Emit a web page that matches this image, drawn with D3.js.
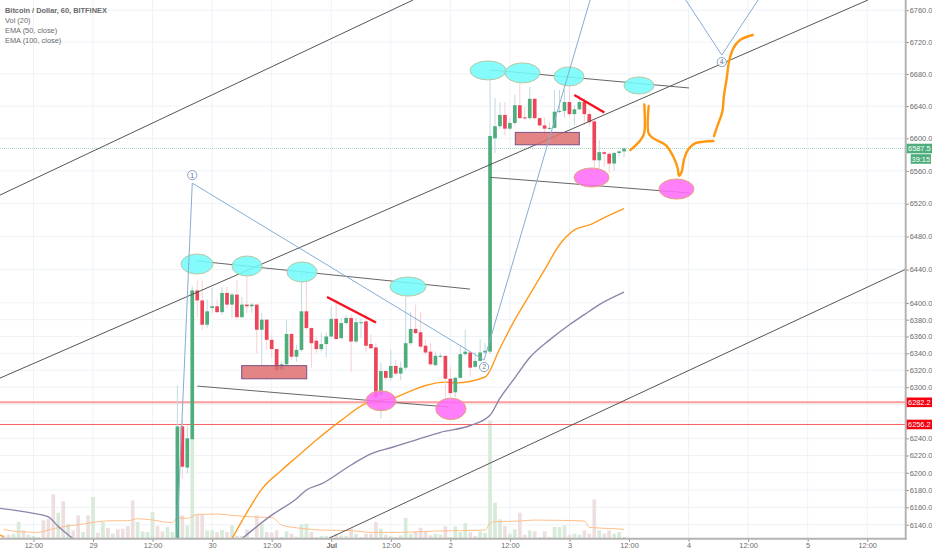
<!DOCTYPE html>
<html>
<head>
<meta charset="utf-8">
<script src="https://cdn.jsdelivr.net/npm/d3@7"></script>
<style>
  html, body { margin: 0; background: #fff; }
  text { font-family: "Liberation Sans", Arial, sans-serif; }
</style>
</head>
<body>
<div id="chart"></div>
<script>
// hours are counted from 29 Jun 00:00
const legendLines = ['Bitcoin / Dollar, 60, BITFINEX', 'Vol (20)', 'EMA (50, close)', 'EMA (100, close)'];

const priceTicks = [6760, 6720, 6680, 6640, 6600, 6560, 6520, 6480, 6440, 6400, 6380, 6360, 6340, 6320, 6300, 6280, 6260, 6240, 6220, 6200, 6180, 6160, 6140];
// these two labels sit behind the alert tags in the chart
const hiddenPriceLabels = [6280, 6260];
const timeTicks = [-12, 0, 12, 24, 36, 48, 60, 72, 84, 96, 108, 120, 132, 144, 156];
const timeLabels = ['12:00', '29', '12:00', '30', '12:00', 'Jul', '12:00', '2', '12:00', '3', '12:00', '4', '12:00', '5', '12:00'];

const firstCandleHour = 17;
const candleOpen = [6090, 6254, 6206, 6239, 6415, 6403, 6374, 6394, 6396, 6389, 6412, 6398, 6410, 6383, 6398, 6396, 6398, 6368, 6380, 6356, 6345, 6321, 6327, 6363, 6336, 6344, 6390, 6370, 6355, 6345, 6351, 6360, 6381, 6358, 6376, 6382, 6354, 6376, 6378, 6351, 6347, 6291, 6319, 6311, 6325, 6316, 6323, 6352, 6369, 6365, 6349, 6342, 6326, 6336, 6337, 6310, 6294, 6311, 6339, 6341, 6324, 6331, 6341, 6342, 6600, 6615, 6629, 6612, 6619, 6641, 6626, 6625, 6649, 6625, 6616, 6612, 6613, 6633, 6634, 6645, 6630, 6636, 6645, 6630, 6621, 6573, 6583, 6581, 6569, 6582, 6584];
const candleHigh = [6302, 6261, 6255, 6420, 6427, 6427, 6404, 6418, 6404, 6419, 6419, 6412, 6427, 6407, 6433, 6400, 6399, 6388, 6380, 6362, 6346, 6330, 6380, 6364, 6350, 6439, 6436, 6371, 6360, 6365, 6365, 6395, 6404, 6382, 6386, 6386, 6382, 6382, 6388, 6362, 6352, 6329, 6320, 6344, 6332, 6330, 6407, 6389, 6398, 6389, 6356, 6352, 6342, 6340, 6338, 6324, 6312, 6350, 6368, 6342, 6342, 6357, 6352, 6685, 6650, 6645, 6645, 6625, 6654, 6669, 6639, 6664, 6650, 6626, 6626, 6620, 6660, 6660, 6660, 6669, 6641, 6654, 6650, 6635, 6623, 6598, 6585, 6583, 6583, 6585, 6589];
const candleLow = [6090, 6192, 6199, 6238, 6383, 6367, 6370, 6388, 6388, 6386, 6394, 6382, 6380, 6382, 6388, 6388, 6340, 6326, 6344, 6335, 6313, 6320, 6326, 6332, 6330, 6342, 6368, 6323, 6340, 6342, 6335, 6358, 6356, 6357, 6374, 6318, 6352, 6358, 6341, 6345, 6287, 6263, 6308, 6308, 6314, 6308, 6320, 6350, 6363, 6346, 6338, 6325, 6325, 6335, 6288, 6289, 6288, 6310, 6337, 6312, 6323, 6330, 6339, 6339, 6582, 6612, 6604, 6610, 6616, 6624, 6623, 6623, 6623, 6614, 6604, 6610, 6612, 6631, 6626, 6626, 6616, 6635, 6616, 6614, 6563, 6563, 6565, 6557, 6560, 6578, 6577];
const candleClose = [6254, 6207, 6240, 6415, 6403, 6374, 6390, 6396, 6389, 6412, 6398, 6410, 6383, 6398, 6396, 6398, 6368, 6380, 6356, 6345, 6320, 6327, 6363, 6336, 6344, 6390, 6370, 6352, 6345, 6351, 6360, 6381, 6357, 6376, 6382, 6354, 6377, 6377, 6349, 6346, 6288, 6319, 6311, 6325, 6316, 6323, 6352, 6369, 6364, 6348, 6341, 6327, 6337, 6337, 6310, 6293, 6311, 6339, 6342, 6323, 6331, 6341, 6343, 6603, 6615, 6629, 6612, 6619, 6641, 6625, 6625, 6649, 6625, 6616, 6612, 6613, 6633, 6634, 6645, 6630, 6636, 6645, 6630, 6620, 6573, 6583, 6581, 6569, 6582, 6584, 6587.5];

const firstVolumeHour = -18;
const volume = [10, 12, 15, 50, 25, 12, 8, 5, 55, 60, 133, 78, 112, 45, 25, 70, 20, 70, 125, 18, 50, 32, 15, 28, 30, 38, 115, 50, 22, 20, 80, 38, 22, 35, 20, 60, 70, 40, 300, 72, 72, 25, 25, 20, 26, 20, 40, 8, 8, 28, 5, 70, 45, 20, 18, 25, 5, 22, 15, 6, 43, 45, 20, 5,
  8, 8, 8, 15, 10, 8, 30, 15, 5, 15, 15, 50, 30, 12, 8, 5, 10, 62, 15, 22, 33, 22, 10, 15, 12, 37, 5, 37, 20, 47, 20, 8, 22, 18, 355, 108, 58, 38, 15, 28, 78, 12, 25, 22, 5, 22, 5, 35, 35, 40, 12, 15, 12, 25, 15, 118, 25, 15, 25, 15, 20, 5];
const volumeColour = ['r','r','g','g','r','g','g','r','r','r','r','g','r','g','r','r','g','r','g','r','g','r','g','r','r','r','r','g','g','g','g','r','r','g','g','g','r','g','g','r','r','g','g','r','g','r','g','r','g','r','g','r','g','r','r','r','g','g','r','g','g','g','r','g',
  'g','g','r','r','g','g','r','g','g','r','r','r','g','r','g','r','g','g','g','r','r','r','r','g','g','r','r','g','g','g','r','r','g','g','g','g','g','r','g','g','r','r','g','r','r','r','g','g','g','g','r','g','g','r','r','r','g','r','r','g','g','g'];

const volMaHours = [-18, -15, -11, -9, -6, -2, 0, 4, 7, 9, 12, 16, 17, 19, 21, 25, 28, 35, 36, 38, 42, 46, 52, 56, 62, 69, 79, 80, 81, 86, 89, 94, 99, 100, 105, 107];
const volMa = [28, 21, 19, 26, 36, 44, 49, 54, 54, 60, 56, 48, 63, 61, 73, 74, 70, 64, 64, 41, 31, 26, 24, 19, 19, 23, 26, 46, 51, 53, 56, 55, 53, 34, 30, 28];

const ema50Hours = [-19, -18, -16, 28, 31, 34, 38, 41, 45, 50, 55, 61, 63, 67, 71, 73, 79, 82, 85, 88, 91, 94, 97, 100, 103, 107];
const ema50 = [6129, 6126, null, 6124, 6154, 6181, 6203, 6218, 6238, 6261, 6281, 6288, 6293, 6302, 6306, 6305, 6312, 6346, 6380, 6410, 6440, 6470, 6488, 6494, 6503, 6514];
const ema100Hours = [-19, -15, -12, -9, -7, -4, 10, 30, 36, 41, 43, 46, 52, 56, 60, 65, 70, 76, 80, 82, 85, 88, 92, 96, 99, 102, 107];
const ema100 = [6159, 6156, 6153, 6149, 6138, 6124, null, 6124, 6151, 6170, 6180, 6187, 6209, 6222, 6229, 6238, 6247, 6255, 6267, 6287, 6311, 6335, 6356, 6374, 6386, 6398, 6413];

const lastPrice = 6587.5;
const countdown = '39:15';
const alertPrices = [6282.2, 6256.2];

// drawn on the chart by hand: hourA, priceA, hourB, priceB
const channelLines = [[-18.74, 6530.4, 64.48, 6773], [-18.74, 6310.7, 156.15, 6773], [47.35, 6124, 163.6, 6440]];
const trendLines = [[80, 6685, 120.09, 6662.5], [80, 6552.1, 120.3, 6532.9], [20.95, 6450.4, 75.96, 6416.6], [21, 6301.3, 71.7, 6276.6]];
const redLines = [[47.15, 6407.1, 57.02, 6376.6], [96.98, 6653.8, 103.03, 6632.1]];
const redBoxes = [[29.96, 6325.4, 43.06, 6309.9], [85.09, 6607.4, 97.99, 6592.1]];
// hourStart, priceTop, hourEnd, priceBottom
const cyanMarks = [[17.73, 6458.8, 24.18, 6434.7], [28, 6456.4, 34.05, 6432.3], [39.09, 6449.2, 45.13, 6425.1], [59.84, 6431.1, 67.1, 6408.2], [75.96, 6696.3, 83.22, 6672.5], [83.01, 6693.8, 90.07, 6668.8], [92.89, 6688.8, 98.93, 6665], [106.99, 6676.3, 113.04, 6655]];
const pinkMarks = [[55, 6295.8, 61.05, 6272.3], [69.05, 6287.2, 75.16, 6261.9], [96.92, 6563.6, 103.97, 6540.2], [114.04, 6550.1, 121.1, 6525.5]];

const waveHours = [16.9, 20, 78.8, 106.15, 126.7, 134];
const wavePrices = [6124, 6545, 6332, 6902, 6703.6, 6773];
const waveLabels = [null, '1', '2', null, '4', null];

const brushHours = [
  [108.26, 109.55, 110.56, 111.08, 111.08],
  [111.97, 111.97, 112.9, 115.4, 116.93, 117.81, 118.07, 118.62, 119.14, 120.09, 121.3, 122.97, 124.98],
  [125.12, 125.87, 126.8, 127.14, 127.69, 128.15, 129.01, 130.36, 132.92]
];
const brushPrices = [
  [6585.6, 6592.6, 6600, 6607.4, 6642.1],
  [6640, 6606.1, 6600, 6591.8, 6577.4, 6563.2, 6554.1, 6559, 6575.5, 6587.7, 6593.9, 6595.8, 6596.7],
  [6602.8, 6616.3, 6632.9, 6653.8, 6674.6, 6695.4, 6712.1, 6722.5, 6728.8]
];

const width = 932;
const height = 550;
const plotRight = 905.7;
const plotBottom = 538.7;
const textColor = '#6a6a6a';
const gridColor = '#eef3f8';
const upColor = '#4dae7c';
const downColor = '#ee4459';

const x = d3.scaleLinear().domain([-18.74, 163.75]).range([0, plotRight]);
const y = d3.scaleLog().domain([6124, 6773]).range([plotBottom, 0]);
const volY = d3.scaleLinear().domain([0, 400]).range([plotBottom, plotBottom - 133.3]);
const barWidth = (x(1) - x(0)) * 0.74;

const svg = d3.select('#chart').append('svg')
  .attr('width', width)
  .attr('height', height)
  .style('display', 'block');

svg.append('clipPath').attr('id', 'plot')
  .append('rect')
  .attr('width', plotRight)
  .attr('height', plotBottom);

// grid
const grid = svg.append('g');
grid.selectAll('.h').data(priceTicks).enter().append('line')
  .attr('x1', 0).attr('x2', plotRight)
  .attr('y1', d => y(d)).attr('y2', d => y(d))
  .attr('stroke', gridColor);
grid.selectAll('.v').data(timeTicks).enter().append('line')
  .attr('x1', d => x(d)).attr('x2', d => x(d))
  .attr('y1', 0).attr('y2', plotBottom)
  .attr('stroke', gridColor);

const plot = svg.append('g').attr('clip-path', 'url(#plot)');

// volume
plot.selectAll('.vol').data(volume).enter().append('rect')
  .attr('x', (d, i) => x(firstVolumeHour + i) - barWidth / 2)
  .attr('y', d => volY(d))
  .attr('width', barWidth)
  .attr('height', d => plotBottom - volY(d))
  .attr('fill', (d, i) => (volumeColour[i] === 'g' ? '#d8ead9' : '#eddfdf'));

const seriesLine = (hours, scale) => d3.line()
  .defined(d => d !== null)
  .curve(d3.curveMonotoneX)
  .x((d, i) => x(hours[i]))
  .y(d => scale(d));

const addSeries = (hours, values, scale, color, w) => plot.append('path')
  .attr('d', seriesLine(hours, scale)(values))
  .attr('fill', 'none')
  .attr('stroke', color)
  .attr('stroke-width', w);

addSeries(volMaHours, volMa, volY, '#ffbe8a', 1);

// fixed price levels
plot.append('line')
  .attr('x1', 0).attr('x2', plotRight)
  .attr('y1', y(lastPrice)).attr('y2', y(lastPrice))
  .attr('stroke', '#a5dcc0')
  .attr('stroke-dasharray', '1 1');
plot.append('line')
  .attr('x1', 0).attr('x2', plotRight)
  .attr('y1', y(alertPrices[0])).attr('y2', y(alertPrices[0]))
  .attr('stroke', '#ff9c9c')
  .attr('stroke-width', 2);
plot.append('line')
  .attr('x1', 0).attr('x2', plotRight)
  .attr('y1', y(alertPrices[1])).attr('y2', y(alertPrices[1]))
  .attr('stroke', '#f95f5f')
  .attr('stroke-width', 1);

addSeries(ema50Hours, ema50, y, '#ff9a1e', 1.4);
addSeries(ema100Hours, ema100, y, '#8e84a9', 1.4);

// candles
const candles = plot.selectAll('.candle').data(candleOpen).enter().append('g');
const isUp = i => candleClose[i] >= candleOpen[i];
candles.append('line')
  .attr('x1', (d, i) => x(firstCandleHour + i))
  .attr('x2', (d, i) => x(firstCandleHour + i))
  .attr('y1', (d, i) => y(candleHigh[i]))
  .attr('y2', (d, i) => y(candleLow[i]))
  .attr('stroke', (d, i) => (isUp(i) ? '#c4d8e2' : '#f9cfd3'));
candles.append('rect')
  .attr('x', (d, i) => x(firstCandleHour + i) - barWidth / 2)
  .attr('y', (d, i) => y(Math.max(candleOpen[i], candleClose[i])))
  .attr('width', barWidth)
  .attr('height', (d, i) => Math.max(1, Math.abs(y(candleOpen[i]) - y(candleClose[i]))))
  .attr('fill', (d, i) => (isUp(i) ? upColor : downColor));

// drawings
const addSegments = (rows, color, w) => plot.selectAll(null).data(rows).enter().append('line')
  .attr('x1', d => x(d[0])).attr('y1', d => y(d[1]))
  .attr('x2', d => x(d[2])).attr('y2', d => y(d[3]))
  .attr('stroke', color)
  .attr('stroke-width', w);

const addEllipses = (rows, fill, stroke) => plot.selectAll(null).data(rows).enter().append('ellipse')
  .attr('cx', d => (x(d[0]) + x(d[2])) / 2)
  .attr('cy', d => (y(d[1]) + y(d[3])) / 2)
  .attr('rx', d => (x(d[2]) - x(d[0])) / 2)
  .attr('ry', d => (y(d[3]) - y(d[1])) / 2)
  .attr('fill', fill)
  .attr('fill-opacity', 0.88)
  .attr('stroke', stroke);

addSegments(channelLines, '#555', 1);
addSegments(trendLines, '#666', 1);

plot.selectAll(null).data(redBoxes).enter().append('rect')
  .attr('x', d => x(d[0])).attr('y', d => y(d[1]))
  .attr('width', d => x(d[2]) - x(d[0]))
  .attr('height', d => y(d[3]) - y(d[1]))
  .attr('fill', '#de7070')
  .attr('fill-opacity', 0.85)
  .attr('stroke', '#7b4f86');

addEllipses(cyanMarks, '#74fbfb', '#b9c8a2');
addEllipses(pinkMarks, '#ff6cf8', '#e2a878');
addSegments(redLines, '#f4101c', 2.4);

plot.append('path')
  .attr('d', d3.line().x((d, i) => x(waveHours[i])).y(d => y(d))(wavePrices))
  .attr('fill', 'none')
  .attr('stroke', '#86add2')
  .attr('stroke-width', 1);

const waveOffset = { 1: -8, 2: 7, 4: 7 };
const waveBadges = plot.selectAll(null).data(waveLabels.filter(d => d)).enter().append('g')
  .attr('transform', d => {
    const i = waveLabels.indexOf(d);
    return `translate(${x(waveHours[i])},${y(wavePrices[i]) + waveOffset[d]})`;
  });
waveBadges.append('circle')
  .attr('r', 4.6)
  .attr('fill', '#fff')
  .attr('fill-opacity', 0.8)
  .attr('stroke', '#86a4c4');
waveBadges.append('text')
  .attr('y', 2.4)
  .attr('text-anchor', 'middle')
  .attr('font-size', 7)
  .attr('fill', '#5f7890')
  .text(d => d);

brushHours.forEach((hours, k) => {
  plot.append('path')
    .attr('d', d3.line().curve(d3.curveCatmullRom).x((d, i) => x(hours[i])).y(d => y(d))(brushPrices[k]))
    .attr('fill', 'none')
    .attr('stroke', '#ff980f')
    .attr('stroke-width', 2.4)
    .attr('stroke-linecap', 'round');
});

// axes
const styleAxis = g => {
  g.select('.domain').remove();
  g.selectAll('.tick line').attr('stroke', '#888');
  g.selectAll('.tick text').attr('fill', textColor).attr('font-size', 7.4);
};

svg.append('g')
  .attr('transform', `translate(${plotRight},0)`)
  .call(d3.axisRight(y)
    .tickValues(priceTicks.filter(d => !hiddenPriceLabels.includes(d)))
    .tickFormat(d3.format('.1f'))
    .tickSize(3)
    .tickPadding(1))
  .call(styleAxis);

svg.append('g')
  .attr('transform', `translate(0,${plotBottom})`)
  .call(d3.axisBottom(x).tickValues(timeTicks).tickFormat((d, i) => timeLabels[i]).tickSize(3).tickPadding(1))
  .call(styleAxis)
  .selectAll('.tick text')
  .attr('font-weight', d => (d === 48 ? 'bold' : 'normal'));

svg.append('line')
  .attr('x1', 0).attr('x2', plotRight + 1)
  .attr('y1', plotBottom).attr('y2', plotBottom)
  .attr('stroke', '#b4b4b4')
  .attr('stroke-width', 2);
svg.append('line')
  .attr('x1', plotRight).attr('x2', plotRight)
  .attr('y1', 0).attr('y2', plotBottom + 1)
  .attr('stroke', '#b4b4b4')
  .attr('stroke-width', 2);

// price tags
const addTag = (cy, left, right, color, label) => {
  svg.append('rect')
    .attr('x', left).attr('y', cy - 4.8)
    .attr('width', right - left).attr('height', 9.6)
    .attr('fill', color);
  svg.append('text')
    .attr('x', (left + right) / 2).attr('y', cy + 2.6)
    .attr('text-anchor', 'middle')
    .attr('font-size', 7.4)
    .attr('fill', '#fff')
    .text(label);
};
addTag(y(lastPrice), plotRight + 1, 932, upColor, lastPrice.toFixed(1));
addTag(y(lastPrice) + 10.5, plotRight + 5, 931, upColor, countdown);
alertPrices.forEach(p => addTag(y(p), plotRight + 1, 932, '#f5000f', p.toFixed(1)));

// legend
svg.selectAll('.legend').data(legendLines).enter().append('text')
  .attr('x', 5)
  .attr('y', (d, i) => 12.5 + i * 10)
  .attr('font-size', 7.4)
  .attr('font-weight', (d, i) => (i === 0 ? 'bold' : 'normal'))
  .attr('fill', textColor)
  .text(d => d);
</script>
</body>
</html>
